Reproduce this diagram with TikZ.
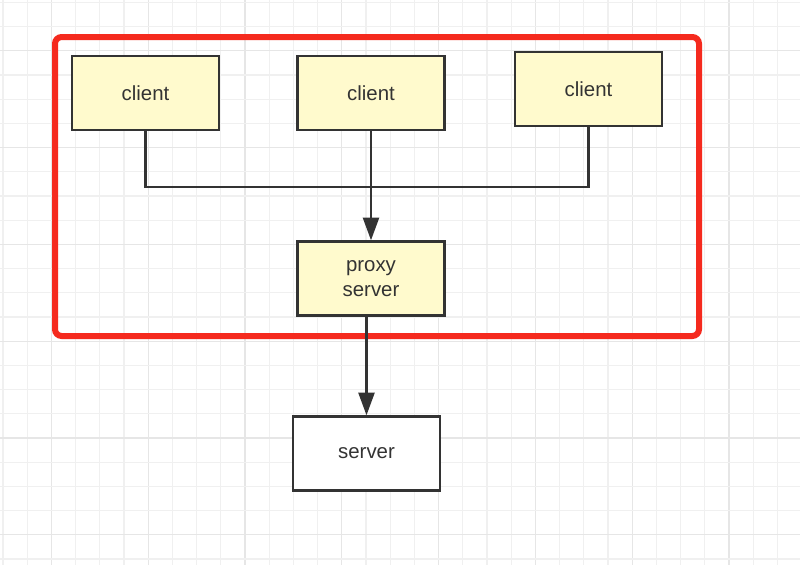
\documentclass[tikz,border=0pt]{standalone}
\usepackage{fontspec}
\setmainfont{Liberation Sans}
\usetikzlibrary{arrows.meta}
\definecolor{gridminor}{HTML}{F0F0F0}
\definecolor{gridmajor}{HTML}{E6E6E6}
\definecolor{boxfill}{HTML}{FFFACD}
\definecolor{ink}{HTML}{333333}
\definecolor{redframe}{HTML}{F52A1E}
\tikzset{
  boxnode/.style={draw=ink, line width=1.8pt, fill=boxfill, minimum width=147*0.75pt, minimum height=74*0.75pt, inner sep=0pt, align=center, text=ink, font=\fontsize{15.3pt}{19pt}\selectfont},
  plainbox/.style={boxnode, fill=white},
  conn/.style={draw=ink, line width=1.8pt},
  arrowconn/.style={conn, -{Triangle[length=17pt,width=12pt]}},
}
\begin{document}
\begin{tikzpicture}[x={(0.75pt,0)}, y={(0,-0.75pt)}]
\useasboundingbox (0,0) rectangle (800,565);
\fill[white] (0,0) rectangle (800,565);
% grid
\foreach \k in {0,...,32}{
  \pgfmathtruncatemacro{\m}{mod(\k,4)}
  \ifnum\m=2
    \draw[gridmajor, line width=0.9pt] ({3+24.2*\k},0) -- ({3+24.2*\k},565);
  \else
    \draw[gridminor, line width=0.9pt] ({3+24.2*\k},0) -- ({3+24.2*\k},565);
  \fi
}
\foreach \k in {0,...,23}{
  \pgfmathtruncatemacro{\m}{mod(\k,4)}
  \ifnum\m=2
    \draw[gridmajor, line width=0.9pt] (0,{2.4+24.2*\k}) -- (800,{2.4+24.2*\k});
  \else
    \draw[gridminor, line width=0.9pt] (0,{2.4+24.2*\k}) -- (800,{2.4+24.2*\k});
  \fi
}
% red frame
\draw[redframe, line width=4.5pt, rounded corners=5pt] (55,37) rectangle (699,336);
% nodes
\node[boxnode] (c1) at (145.5,93) {client};
\node[boxnode] (c2) at (371,93) {client};
\node[boxnode] (c3) at (588.5,89) {client};
\node[boxnode] (px) at (371,278.5) {proxy\\server};
\node[plainbox] (sv) at (366.5,453.5) {server};
% connectors
\coordinate (j) at (371,187);
\draw[conn] (c1.south) |- (j) -| (c3.south);
\draw[arrowconn] (c2.south) -- (px.north);
\draw[arrowconn] (sv.north |- px.south) -- (sv.north);
\end{tikzpicture}
\end{document}
